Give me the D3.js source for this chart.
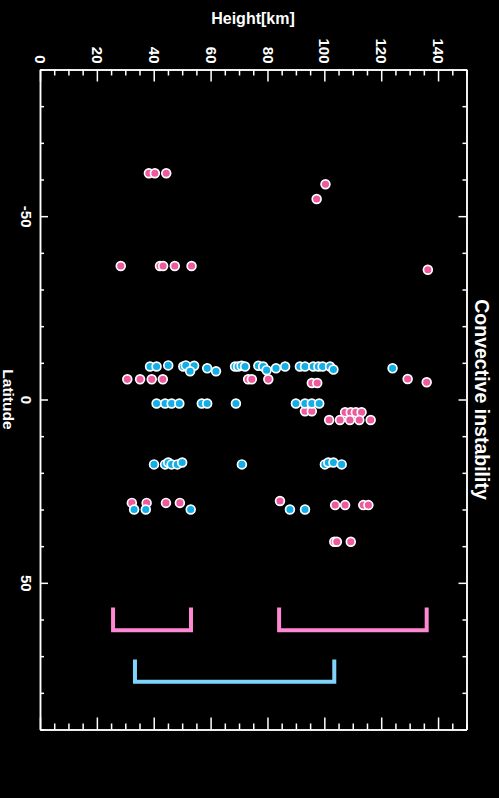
<!DOCTYPE html>
<html>
<head>
<meta charset="utf-8">
<script src="https://cdn.jsdelivr.net/npm/d3@7"></script>
<style>
  html, body { margin: 0; padding: 0; background: #000; }
  svg { display: block; font-family: "Liberation Sans", Arial, sans-serif; }
</style>
</head>
<body>
<svg id="chart" width="499" height="798"></svg>
<script>
// Height [km] and latitude of each detection, per series
const pinkHeight = [38.3, 40.4, 44.4, 100.4, 97.3, 28.4, 42.2, 43.3, 47.4, 53.3, 136.4,
  30.7, 35.2, 39.3, 43.2, 73.2, 74.5, 80.3, 95.6, 97.5, 129.3, 136.0,
  93.2, 95.6, 107.3, 109.3, 111.1, 113.1, 101.7, 105.5, 109.0, 112.3, 116.3,
  32.3, 37.5, 44.3, 49.2, 84.4, 103.8, 107.3, 113.7, 115.5, 103.5, 104.4, 109.3];
const pinkLat = [-61.7, -61.7, -61.7, -58.7, -54.7, -36.4, -36.4, -36.4, -36.4, -36.4, -35.4,
  -5.5, -5.5, -5.5, -5.5, -5.5, -5.5, -5.5, -4.5, -4.5, -5.6, -4.7,
  3.2, 3.2, 3.5, 3.5, 3.5, 3.5, 5.6, 5.6, 5.6, 5.6, 5.6,
  28.2, 28.2, 28.2, 28.2, 27.7, 28.8, 28.8, 28.8, 28.8, 38.8, 38.8, 38.8];

const blueHeight = [38.7, 41.0, 45.1, 50.4, 51.3, 54.2, 52.8, 58.8, 61.9, 68.6, 69.7, 70.9, 72.1,
  76.8, 78.5, 79.7, 83.0, 86.2, 91.4, 93.2, 96.1, 97.9, 99.4, 102.0, 103.2, 124.0,
  41.0, 44.0, 46.3, 49.0, 56.9, 58.8, 68.9, 90.0, 93.2, 95.6, 98.2,
  40.1, 44.0, 45.1, 46.3, 48.3, 50.0, 71.0, 100.2, 101.4, 103.2, 106.1,
  33.1, 37.2, 53.0, 87.9, 93.2];
const blueLat = [-9.0, -9.0, -9.3, -9.0, -9.3, -9.2, -7.7, -8.5, -7.7, -9.0, -9.0, -9.2, -9.0,
  -9.2, -9.0, -8.0, -8.5, -9.0, -9.0, -9.0, -9.0, -9.0, -9.0, -9.0, -8.2, -8.5,
  1.1, 1.1, 1.1, 1.1, 1.1, 1.1, 1.1, 1.1, 1.1, 1.1, 1.1,
  17.7, 17.7, 17.2, 17.7, 17.7, 17.2, 17.7, 17.7, 17.2, 17.2, 17.7,
  30.0, 30.0, 30.0, 30.0, 30.0];

// range brackets: [height from, height to, latitude of open end, latitude of base]
const pinkBrackets = [[25.7, 53.1, 56.7, 62.9], [84.1, 136.0, 56.7, 62.9]];
const blueBrackets = [[33.4, 103.5, 70.9, 77.0]];

const heightTicks = [0, 20, 40, 60, 80, 100, 120, 140];
const latTicks = [-50, 0, 50];

const pinkFill = "#ee5a9d";
const blueFill = "#12aee8";
const pinkLine = "#ff88d2";
const blueLine = "#80d4fb";

const svg = d3.select("#chart");
const plotLeft = 40, plotRight = 466.5, plotTop = 69.5, plotBottom = 729.5;

const x = d3.scaleLinear().domain([0, 150]).range([plotLeft, plotRight]);
const y = d3.scaleLinear().domain([-90, 90]).range([plotTop, plotBottom]);

svg.append("rect").attr("width", 499).attr("height", 798).attr("fill", "#000");

// Axes: ticks point into the plot, minor ticks half length
function styleAxis(g) {
  g.select(".domain").attr("stroke", "#fff").attr("stroke-width", 1.5);
  g.selectAll(".tick line").attr("stroke", "#fff").attr("stroke-width", 1.5);
}

function minorAxis(axisFn, scale, values, size, tr) {
  svg.append("g")
    .attr("transform", tr)
    .call(axisFn(scale).tickValues(values).tickSizeInner(-size).tickSizeOuter(0).tickFormat(""))
    .call(styleAxis);
}

const hMinor = d3.range(0, 151, 5).filter((v) => v % 20 !== 0);
const latMinor = d3.range(-90, 91, 10).filter((v) => v % 50 !== 0);

minorAxis(d3.axisTop, x, hMinor, 6, `translate(0,${plotTop})`);
minorAxis(d3.axisBottom, x, hMinor, 6, `translate(0,${plotBottom})`);
minorAxis(d3.axisLeft, y, latMinor, 4, `translate(${plotLeft},0)`);
minorAxis(d3.axisRight, y, latMinor, 4, `translate(${plotRight},0)`);

const topAxis = svg.append("g")
  .attr("transform", `translate(0,${plotTop})`)
  .call(d3.axisTop(x).tickValues(heightTicks).tickSizeInner(-12).tickSizeOuter(0))
  .call(styleAxis);
topAxis.selectAll(".tick text")
  .attr("fill", "#fff")
  .attr("font-size", 15)
  .attr("font-weight", "bold")
  .attr("text-anchor", "end")
  .attr("x", -6)
  .attr("y", 0)
  .attr("dy", "0.36em")
  .attr("transform", "rotate(90)");

svg.append("g")
  .attr("transform", `translate(0,${plotBottom})`)
  .call(d3.axisBottom(x).tickValues(heightTicks).tickSizeInner(-12).tickSizeOuter(0).tickFormat(""))
  .call(styleAxis);

const leftAxis = svg.append("g")
  .attr("transform", `translate(${plotLeft},0)`)
  .call(d3.axisLeft(y).tickValues(latTicks).tickSizeInner(-8).tickSizeOuter(0)
    .tickFormat((d) => String(d)))
  .call(styleAxis);
leftAxis.selectAll(".tick text")
  .attr("fill", "#fff")
  .attr("font-size", 15)
  .attr("font-weight", "bold")
  .attr("text-anchor", "middle")
  .attr("x", 0)
  .attr("y", 0)
  .attr("dy", "0.36em")
  .attr("transform", "translate(-14,0) rotate(90)");

svg.append("g")
  .attr("transform", `translate(${plotRight},0)`)
  .call(d3.axisRight(y).tickValues(latTicks).tickSizeInner(-8).tickSizeOuter(0).tickFormat(""))
  .call(styleAxis);

// Titles
svg.append("text")
  .attr("x", 253).attr("y", 24)
  .attr("text-anchor", "middle")
  .attr("fill", "#fff")
  .attr("font-size", 16)
  .attr("font-weight", "bold")
  .text("Height[km]");

svg.append("text")
  .attr("transform", `translate(8.5,${y(0)}) rotate(90)`)
  .attr("text-anchor", "middle")
  .attr("dy", "0.36em")
  .attr("fill", "#fff")
  .attr("font-size", 15.5)
  .attr("font-weight", "bold")
  .text("Latitude");

svg.append("text")
  .attr("transform", `translate(482,${y(0)}) rotate(90)`)
  .attr("text-anchor", "middle")
  .attr("dy", "0.36em")
  .attr("fill", "#fff")
  .attr("font-size", 19.5)
  .attr("font-weight", "bold")
  .text("Convective instability");

// Range brackets
function drawBrackets(rows, color) {
  svg.append("g")
    .selectAll("path")
    .data(rows)
    .join("path")
    .attr("d", (d) => `M${x(d[0])},${y(d[2])}V${y(d[3])}H${x(d[1])}V${y(d[2])}`)
    .attr("fill", "none")
    .attr("stroke", color)
    .attr("stroke-width", 4);
}
drawBrackets(pinkBrackets, pinkLine);
drawBrackets(blueBrackets, blueLine);

// Points
function drawPoints(hs, lats, color) {
  svg.append("g")
    .selectAll("circle")
    .data(d3.zip(hs, lats))
    .join("circle")
    .attr("cx", (d) => x(d[0]))
    .attr("cy", (d) => y(d[1]))
    .attr("r", 4.4)
    .attr("fill", color)
    .attr("stroke", "#fff")
    .attr("stroke-width", 1.7);
}
drawPoints(pinkHeight, pinkLat, pinkFill);
drawPoints(blueHeight, blueLat, blueFill);
</script>
</body>
</html>
